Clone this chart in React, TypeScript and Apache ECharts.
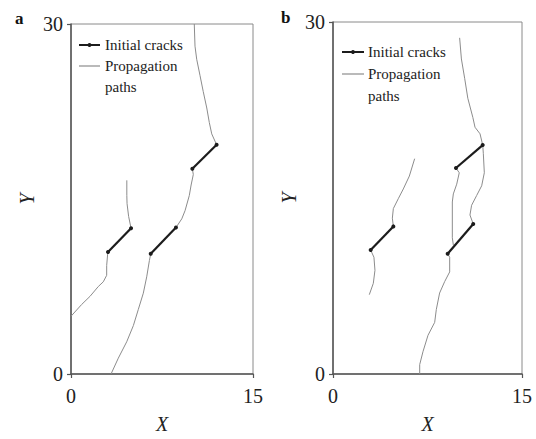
import React, { useEffect, useRef } from "react";
import * as echarts from "echarts";

// Panel a
const crackA1 = [[3.05, 10.45], [4.95, 12.5]];
const crackA2 = [[6.57, 10.3], [8.65, 12.55]];
const crackA3 = [[10.0, 17.6], [12.0, 19.65]];
const pathA1 = [[4.95, 12.5], [4.75, 13.5], [4.62, 14.6], [4.6, 15.3], [4.6, 16.6]];
const pathA2 = [[3.05, 10.45], [3.02, 10.28], [2.94, 9.3], [2.94, 8.46], [2.66, 7.9], [2.25, 7.5], [1.57, 6.66], [0.88, 5.96], [0.0, 4.95]];
const pathA3 = [[6.57, 10.3], [6.46, 9.72], [6.24, 8.33], [5.96, 6.93], [5.55, 5.54], [5.14, 4.15], [4.59, 2.76], [3.9, 1.36], [3.3, 0]];
const pathA4 = [[8.65, 12.55], [9.13, 13.3], [9.4, 14.0], [9.75, 15.3], [9.9, 16.2], [10.08, 17.1], [10.0, 17.6]];
const pathA5 = [[12.0, 19.65], [11.6, 20.58], [11.4, 21.55], [11.19, 22.8], [10.9, 24.2], [10.63, 25.6], [10.36, 26.98], [10.22, 28.1], [10.16, 30]];

// Panel b
const crackB1 = [[2.99, 10.56], [4.79, 12.58]];
const crackB2 = [[9.1, 10.25], [11.13, 12.78]];
const crackB3 = [[9.76, 17.56], [11.88, 19.51]];
const pathB1 = [[4.79, 12.58], [4.71, 13.28], [4.79, 14.1], [5.18, 14.94], [5.58, 15.77], [6.06, 16.87], [6.48, 18.35]];
const pathB2 = [[2.99, 10.56], [3.25, 9.95], [3.33, 8.84], [3.2, 7.73], [2.88, 6.76]];
const pathB3 = [[9.1, 10.25], [9.26, 9.95], [9.26, 8.7], [8.86, 7.87], [8.46, 6.9], [8.2, 5.5], [8.07, 4.4], [7.54, 3.3], [7.14, 1.9], [6.88, 0.8], [6.88, 0]];
const pathB4 = [[9.76, 17.56], [10.02, 17.15], [9.82, 16.18], [9.55, 15.35], [9.47, 14.66], [9.47, 11.61], [9.55, 11.0]];
const pathB5 = [[11.88, 19.51], [11.93, 18.81], [12.01, 17.15], [11.8, 16.04], [11.4, 15.21], [11.0, 14.38], [10.87, 13.55], [11.13, 12.78]];
const pathB6 = [[11.88, 19.51], [11.67, 20.47], [11.27, 21.03], [11.1, 21.86], [10.7, 23.5], [10.45, 25.2], [10.19, 26.85], [10.05, 28.65]];

const xTicks = [0, 15];
const yTicks = [0, 30];
const panelLabels = ["a", "b"];
const legendLabels = ["Initial cracks", "Propagation", "paths"];

const FONT = "'Liberation Serif', 'DejaVu Serif', serif";
const CRACK = "#1c1c1c";
const PATH = "#8c8c8c";

const panelsCracks = [[crackA1, crackA2, crackA3], [crackB1, crackB2, crackB3]];
const panelsPaths = [[pathA1, pathA2, pathA3, pathA4, pathA5], [pathB1, pathB2, pathB3, pathB4, pathB5, pathB6]];

export default function App() {
  const ref = useRef<HTMLDivElement>(null);
  useEffect(() => {
    if (!ref.current) return;
    const chart = echarts.init(ref.current, undefined, { renderer: "svg" });

    const grids = [
      { left: 71, top: 24, width: 182, height: 359 },
      { left: 333, top: 22, width: 189, height: 361 },
    ];

    const mkX = (i: number) => ({
      type: "value",
      gridIndex: i,
      min: xTicks[0],
      max: xTicks[1],
      interval: xTicks[1] - xTicks[0],
      name: "X",
      nameLocation: "middle",
      nameGap: 40,
      nameTextStyle: { fontFamily: FONT, fontStyle: "italic", fontSize: 20, color: "#222" },
      axisLine: { show: true, lineStyle: { color: "#555", width: 1.5 } },
      axisTick: { show: true, length: 4, lineStyle: { color: "#555", width: 1.2 } },
      axisLabel: { fontFamily: FONT, fontSize: 20, color: "#222", margin: 12 },
      splitLine: { show: false },
    });
    const mkY = (i: number) => ({
      type: "value",
      gridIndex: i,
      min: yTicks[0],
      max: yTicks[1],
      interval: yTicks[1] - yTicks[0],
      name: "Y",
      nameLocation: "middle",
      nameGap: 34,
      nameTextStyle: { fontFamily: FONT, fontStyle: "italic", fontSize: 20, color: "#222" },
      axisLine: { show: true, lineStyle: { color: "#555", width: 1.5 } },
      axisTick: { show: true, length: 4, lineStyle: { color: "#555", width: 1.2 } },
      axisLabel: { fontFamily: FONT, fontSize: 20, color: "#222", margin: 8 },
      splitLine: { show: false },
    });

    const series: any[] = [];
    panelsPaths.forEach((paths, gi) => {
      paths.forEach((p) => {
        series.push({
          type: "line",
          name: "Propagation paths",
          xAxisIndex: gi,
          yAxisIndex: gi,
          data: p,
          showSymbol: false,
          symbol: "none",
          lineStyle: { color: PATH, width: 1 },
          silent: true,
        });
      });
    });
    panelsCracks.forEach((cracks, gi) => {
      cracks.forEach((c) => {
        series.push({
          type: "line",
          name: "Initial cracks",
          xAxisIndex: gi,
          yAxisIndex: gi,
          data: c,
          symbol: "circle",
          symbolSize: 4,
          itemStyle: { color: CRACK },
          lineStyle: { color: CRACK, width: 2.2 },
          silent: true,
        });
      });
    });

    const legend = (x0: number, y0: number, gap: number, len: number, tx: number) => [
      { type: "line", shape: { x1: x0, y1: y0, x2: x0 + len, y2: y0 }, style: { stroke: CRACK, lineWidth: 2 } },
      { type: "circle", shape: { cx: x0 + len / 2, cy: y0, r: 2 }, style: { fill: CRACK } },
      { type: "text", x: tx, y: y0, style: { text: legendLabels[0], font: `15px ${FONT}`, fill: "#222", verticalAlign: "middle" } },
      { type: "line", shape: { x1: x0, y1: y0 + gap, x2: x0 + len, y2: y0 + gap }, style: { stroke: PATH, lineWidth: 1.2 } },
      { type: "text", x: tx, y: y0 + gap, style: { text: legendLabels[1], font: `15px ${FONT}`, fill: "#222", verticalAlign: "middle" } },
      { type: "text", x: tx, y: y0 + gap * 2, style: { text: legendLabels[2], font: `15px ${FONT}`, fill: "#222", verticalAlign: "middle" } },
    ];

    chart.setOption({
      animation: false,
      backgroundColor: "#fff",
      grid: grids.map((g) => ({ ...g, show: true, borderColor: "#8a8a8a", borderWidth: 1, backgroundColor: "transparent" })),
      xAxis: [mkX(0), mkX(1)],
      yAxis: [mkY(0), mkY(1)],
      series,
      graphic: [
        { type: "text", x: 15, y: 18, style: { text: panelLabels[0], font: `bold 17px ${FONT}`, fill: "#111", verticalAlign: "middle" } },
        { type: "text", x: 281, y: 17, style: { text: panelLabels[1], font: `bold 17px ${FONT}`, fill: "#111", verticalAlign: "middle" } },
        ...legend(79, 45, 21, 21, 105),
        ...legend(342, 52, 22, 22, 368),
      ],
    });
    return () => chart.dispose();
  }, []);
  return <div ref={ref} style={{ width: 536, height: 439, position: "absolute", left: 0, top: 0 }} />;
}
